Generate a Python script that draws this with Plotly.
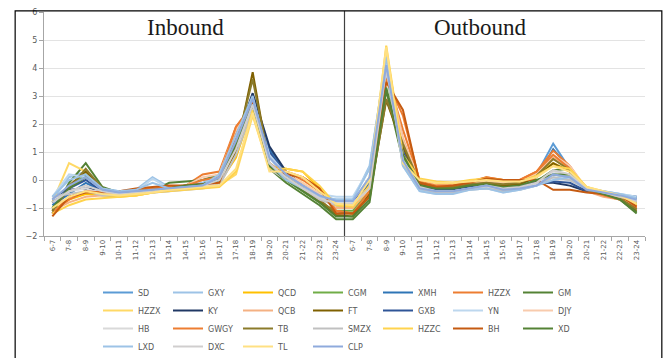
import plotly.graph_objects as go

# hourly intervals, each period listed for the inbound half then the outbound half
hours = ["6-7", "7-8", "8-9", "9-10", "10-11", "11-12", "12-13", "13-14", "14-15",
         "15-16", "16-17", "17-18", "18-19", "19-20", "20-21", "21-22", "22-23", "23-24"]
tick_labels = hours + hours

names = ["SD", "GXY", "QCD", "CGM", "XMH", "HZZX", "GM",
         "HZZX", "KY", "QCB", "FT", "GXB", "YN", "DJY",
         "HB", "GWGY", "TB", "SMZX", "HZZC", "BH", "XD",
         "LXD", "DXC", "TL", "CLP"]

colors = ["#5B9BD5", "#9DC3E6", "#FFC000", "#70AD47", "#2E75B6", "#ED7D31", "#548235",
          "#FFD966", "#203864", "#F4B183", "#7F6000", "#2F5597", "#BDD7EE", "#F8CBAD",
          "#D9D9D9", "#ED7D31", "#8B7B2A", "#C0C0C0", "#FFD34D", "#C55A11", "#548235",
          "#9DC3E6", "#D0CECE", "#FFE083", "#8FAADC"]

inbound = [
    [-0.8, -0.3, 0.2, -0.35, -0.45, -0.4, -0.35, -0.3, -0.25, -0.2, 0.1, 1.4, 2.9, 0.9, 0.2, -0.2, -0.6, -0.9],
    [-0.7, 0.1, 0.3, -0.3, -0.4, -0.35, 0.1, -0.25, -0.2, -0.1, 0.2, 1.6, 3.0, 0.8, 0.1, -0.3, -0.6, -0.7],
    [-1.1, -0.7, -0.5, -0.55, -0.6, -0.55, -0.45, -0.35, -0.3, -0.25, -0.1, 0.8, 2.6, 0.5, 0.4, 0.3, -0.3, -0.9],
    [-1.0, -0.3, 0.2, -0.35, -0.45, -0.45, -0.4, -0.35, -0.3, -0.15, 0.0, 1.2, 2.7, 0.5, 0.0, -0.4, -0.8, -1.1],
    [-0.9, -0.5, -0.1, -0.4, -0.45, -0.45, -0.4, -0.35, -0.3, -0.2, 0.0, 1.3, 3.0, 1.1, 0.2, -0.2, -0.6, -0.9],
    [-1.2, -0.7, -0.4, -0.5, -0.5, -0.45, -0.4, -0.3, -0.2, 0.2, 0.3, 1.9, 2.6, 0.4, 0.3, 0.0, -0.4, -1.1],
    [-1.2, -0.1, 0.6, -0.25, -0.45, -0.45, -0.4, -0.1, -0.05, 0.0, 0.2, 1.5, 2.7, 0.4, -0.1, -0.5, -0.9, -1.4],
    [-0.8, 0.6, 0.3, -0.4, -0.55, -0.55, -0.45, -0.35, -0.3, -0.25, -0.2, 0.2, 2.3, 0.4, 0.2, -0.1, -0.5, -0.8],
    [-0.7, -0.35, -0.3, -0.35, -0.45, -0.4, -0.35, -0.3, -0.25, -0.2, 0.05, 1.4, 3.1, 1.2, 0.3, -0.2, -0.5, -0.75],
    [-1.1, -0.8, -0.6, -0.55, -0.5, -0.45, -0.4, -0.35, -0.3, -0.2, 0.1, 1.7, 2.8, 0.6, 0.2, -0.2, -0.6, -1.0],
    [-1.1, -0.2, 0.3, -0.3, -0.45, -0.45, -0.4, -0.3, -0.25, -0.2, -0.1, 1.0, 3.85, 0.5, 0.1, -0.3, -0.75, -1.25],
    [-0.8, -0.3, 0.0, -0.4, -0.45, -0.4, -0.35, -0.3, -0.2, -0.15, 0.0, 1.3, 2.9, 1.0, 0.2, -0.2, -0.55, -0.85],
    [-0.6, 0.2, 0.1, -0.35, -0.45, -0.4, 0.05, -0.3, -0.25, -0.2, 0.1, 1.5, 2.9, 0.9, 0.2, -0.2, -0.5, -0.6],
    [-1.0, -0.6, -0.4, -0.45, -0.5, -0.45, -0.4, -0.3, -0.2, 0.1, 0.2, 1.8, 2.6, 0.5, 0.2, -0.1, -0.5, -0.9],
    [-0.7, -0.4, -0.3, -0.5, -0.5, -0.5, -0.45, -0.4, -0.3, -0.25, -0.1, 1.2, 2.6, 0.5, 0.1, -0.25, -0.6, -0.8],
    [-1.2, -0.6, -0.4, -0.45, -0.45, -0.35, -0.3, -0.25, -0.2, 0.0, 0.1, 1.9, 2.7, 0.5, 0.3, 0.1, -0.3, -1.1],
    [-1.1, -0.3, 0.4, -0.3, -0.45, -0.4, -0.35, -0.3, -0.2, -0.15, 0.0, 1.2, 3.6, 0.6, 0.1, -0.3, -0.7, -1.2],
    [-0.6, -0.5, -0.4, -0.55, -0.55, -0.5, -0.45, -0.4, -0.35, -0.3, -0.2, 0.9, 2.5, 0.4, 0.0, -0.3, -0.7, -0.9],
    [-1.2, -0.9, -0.7, -0.65, -0.6, -0.55, -0.45, -0.4, -0.35, -0.3, -0.25, 0.3, 2.5, 0.4, 0.4, 0.3, -0.2, -0.9],
    [-1.3, -0.6, -0.45, -0.45, -0.4, -0.3, -0.25, -0.2, -0.2, -0.15, -0.1, 1.6, 2.8, 0.5, 0.2, 0.1, -0.3, -1.2],
    [-1.0, -0.3, 0.1, -0.3, -0.45, -0.45, -0.4, -0.3, -0.2, -0.15, 0.0, 1.3, 2.7, 0.5, 0.0, -0.4, -0.8, -1.3],
    [-0.6, 0.0, 0.2, -0.3, -0.4, -0.35, -0.1, -0.3, -0.25, -0.2, 0.2, 1.6, 3.0, 0.6, 0.0, -0.3, -0.6, -0.7],
    [-0.8, -0.4, -0.2, -0.4, -0.5, -0.45, -0.4, -0.35, -0.3, -0.2, 0.0, 1.1, 2.7, 0.6, 0.1, -0.3, -0.65, -0.85],
    [-1.0, -0.6, -0.4, -0.5, -0.55, -0.5, -0.45, -0.35, -0.3, -0.25, -0.2, 0.4, 2.4, 0.3, 0.3, 0.1, -0.4, -0.85],
    [-0.7, -0.2, 0.1, -0.35, -0.45, -0.4, -0.35, -0.3, -0.25, -0.2, 0.1, 1.4, 2.9, 0.8, 0.2, -0.2, -0.55, -0.75],
]

outbound = [
    [-0.9, 0.0, 4.1, 1.1, -0.2, -0.4, -0.35, -0.25, -0.15, -0.3, -0.2, 0.2, 1.3, 0.4, -0.35, -0.45, -0.55, -0.7],
    [-0.7, 0.5, 4.3, 0.6, -0.35, -0.45, -0.45, -0.3, -0.25, -0.4, -0.3, -0.2, 0.1, 0.0, -0.3, -0.4, -0.5, -0.6],
    [-1.0, -0.3, 4.6, 1.0, 0.0, -0.1, -0.1, -0.05, 0.0, -0.05, -0.05, 0.2, 0.6, 0.3, -0.3, -0.5, -0.65, -0.9],
    [-1.1, -0.4, 3.8, 0.8, -0.2, -0.35, -0.3, -0.25, -0.2, -0.3, -0.25, -0.1, 0.2, 0.1, -0.35, -0.45, -0.55, -0.85],
    [-0.9, -0.1, 4.0, 1.2, -0.15, -0.3, -0.3, -0.2, -0.1, -0.2, -0.15, 0.1, 1.1, 0.4, -0.3, -0.45, -0.6, -0.8],
    [-1.2, -0.5, 3.8, 1.8, 0.0, -0.2, -0.2, -0.1, 0.1, 0.0, 0.0, 0.3, 1.05, 0.5, -0.35, -0.55, -0.7, -1.0],
    [-1.4, -0.8, 3.2, 0.7, -0.25, -0.35, -0.35, -0.25, -0.2, -0.3, -0.25, -0.05, 0.35, 0.4, -0.35, -0.55, -0.7, -1.2],
    [-0.8, 0.1, 4.5, 0.5, -0.1, -0.2, -0.2, -0.1, 0.0, -0.1, -0.1, 0.1, 0.6, 0.3, -0.25, -0.45, -0.6, -0.8],
    [-0.75, -0.2, 3.9, 1.3, -0.1, -0.3, -0.3, -0.2, -0.15, -0.25, -0.2, -0.1, -0.1, -0.2, -0.4, -0.5, -0.6, -0.65],
    [-1.0, -0.3, 4.2, 1.5, -0.1, -0.25, -0.25, -0.15, -0.1, -0.15, -0.1, 0.2, 0.8, 0.4, -0.4, -0.6, -0.7, -0.95],
    [-1.3, -0.5, 2.85, 1.2, -0.15, -0.3, -0.3, -0.2, -0.15, -0.2, -0.15, 0.1, 0.6, 0.3, -0.35, -0.5, -0.65, -1.1],
    [-0.85, -0.2, 3.9, 1.0, -0.2, -0.35, -0.35, -0.25, -0.2, -0.3, -0.25, -0.15, -0.05, -0.1, -0.4, -0.5, -0.55, -0.6],
    [-0.6, 0.4, 4.3, 0.5, -0.4, -0.5, -0.45, -0.35, -0.3, -0.45, -0.35, -0.2, 0.2, 0.1, -0.3, -0.4, -0.5, -0.6],
    [-0.9, -0.3, 4.1, 1.4, 0.0, -0.2, -0.2, -0.1, 0.0, -0.1, -0.05, 0.2, 0.9, 0.5, -0.3, -0.5, -0.7, -0.9],
    [-0.8, -0.3, 3.9, 0.7, -0.3, -0.4, -0.4, -0.3, -0.25, -0.35, -0.3, -0.15, 0.3, 0.2, -0.3, -0.45, -0.55, -0.7],
    [-1.2, -0.4, 3.6, 2.3, -0.05, -0.2, -0.2, -0.05, 0.1, 0.0, 0.0, 0.3, 0.9, 0.4, -0.35, -0.55, -0.7, -1.0],
    [-1.2, -0.6, 2.9, 1.3, -0.1, -0.25, -0.25, -0.15, -0.1, -0.15, -0.1, 0.15, 0.75, 0.35, -0.35, -0.5, -0.65, -1.05],
    [-0.9, -0.2, 4.0, 0.6, -0.3, -0.45, -0.45, -0.35, -0.3, -0.4, -0.35, -0.2, 0.1, 0.0, -0.3, -0.45, -0.6, -0.75],
    [-0.95, -0.2, 4.8, 0.9, 0.05, -0.05, -0.1, 0.0, 0.05, 0.0, -0.05, 0.15, 0.5, 0.4, -0.25, -0.4, -0.55, -0.9],
    [-1.2, -0.6, 3.5, 2.5, -0.1, -0.25, -0.2, -0.1, 0.05, 0.0, 0.0, 0.0, -0.35, -0.35, -0.45, -0.5, -0.55, -0.95],
    [-1.3, -0.7, 3.3, 0.9, -0.2, -0.3, -0.3, -0.2, -0.15, -0.25, -0.2, 0.0, 0.2, 0.2, -0.3, -0.5, -0.7, -1.15],
    [-0.7, 0.4, 4.4, 0.5, -0.4, -0.5, -0.5, -0.35, -0.3, -0.45, -0.35, -0.2, 0.0, 0.1, -0.3, -0.4, -0.5, -0.65],
    [-0.85, -0.3, 4.0, 0.7, -0.25, -0.4, -0.4, -0.3, -0.2, -0.3, -0.25, -0.1, 0.35, 0.2, -0.3, -0.45, -0.6, -0.75],
    [-0.9, 0.0, 4.75, 0.6, 0.0, -0.1, -0.1, -0.05, 0.0, -0.05, -0.05, 0.1, 0.5, 0.3, -0.25, -0.4, -0.55, -0.85],
    [-0.75, 0.1, 4.1, 0.7, -0.3, -0.4, -0.4, -0.3, -0.2, -0.35, -0.3, -0.2, 0.2, 0.1, -0.35, -0.45, -0.55, -0.7],
]

y_ticks = [-2, -1, 0, 1, 2, 3, 4, 5, 6]

x_pos = list(range(len(tick_labels)))
legend_rows = ["legend", "legend2", "legend3", "legend4"]

W, H = 664, 358
TOP, BOTTOM = 8, 122

fig = go.Figure()
for i, name in enumerate(names):
    fig.add_trace(go.Scatter(
        x=x_pos,
        y=inbound[i] + outbound[i],
        mode="lines",
        name=name,
        line=dict(color=colors[i], width=2),
        legend=legend_rows[i // 7],
    ))

legend_common = dict(
    orientation="h",
    xref="container",
    yref="container",
    xanchor="left",
    yanchor="top",
    x=98 / W,
    entrywidth=25,
    font=dict(family="DejaVu Sans", size=8, color="#595959"),
    bgcolor="rgba(0,0,0,0)",
    tracegroupgap=0,
)
# top edge (px from the top of the page) of each legend row
row_tops_px = [278, 296, 314, 332]

plot_h = H - TOP - BOTTOM
title_y = 1 - (24 - TOP) / plot_h

fig.update_layout(
    width=W,
    height=H,
    margin=dict(l=44, r=19, t=TOP, b=BOTTOM),
    paper_bgcolor="white",
    plot_bgcolor="white",
    font=dict(family="DejaVu Sans", size=8, color="#595959"),
    legend=dict(legend_common, y=1 - row_tops_px[0] / H),
    legend2=dict(legend_common, y=1 - row_tops_px[1] / H),
    legend3=dict(legend_common, y=1 - row_tops_px[2] / H),
    legend4=dict(legend_common, y=1 - row_tops_px[3] / H),
    xaxis=dict(
        range=[-0.5, len(tick_labels) - 0.5],
        tickmode="array",
        tickvals=x_pos,
        ticktext=tick_labels,
        tickangle=-90,
        ticks="",
        showgrid=False,
        zeroline=False,
        showline=True,
        linecolor="#A6A6A6",
        linewidth=1,
        tickfont=dict(size=7, color="#595959"),
        minor=dict(ticks="outside", tick0=-0.5, dtick=1, ticklen=4,
                   tickcolor="#A6A6A6", showgrid=False),
    ),
    yaxis=dict(
        range=[-2, 6],
        tickmode="array",
        tickvals=y_ticks,
        showgrid=True,
        gridcolor="#E3E3E3",
        gridwidth=1,
        zeroline=False,
        showline=True,
        linecolor="#A6A6A6",
        ticks="outside",
        ticklen=4,
        tickcolor="#A6A6A6",
        tickfont=dict(size=8, color="#595959"),
    ),
    annotations=[
        dict(text="Inbound", x=0.235, y=title_y, xref="paper", yref="paper",
             xanchor="center", yanchor="middle", showarrow=False,
             font=dict(family="Liberation Serif", size=23, color="#1a1a1a")),
        dict(text="Outbound", x=0.727, y=title_y, xref="paper", yref="paper",
             xanchor="center", yanchor="middle", showarrow=False,
             font=dict(family="Liberation Serif", size=23, color="#1a1a1a")),
    ],
    shapes=[
        # divider between the inbound and outbound halves
        dict(type="line", xref="x", yref="paper", x0=17.5, x1=17.5, y0=0, y1=1.005,
             line=dict(color="#404040", width=1.2)),
        # frame around the whole chart
        dict(type="rect", xref="paper", yref="paper", x0=-0.048, x1=1.028, y0=-0.7, y1=1.005,
             line=dict(color="#000000", width=1.2), layer="above"),
    ],
)

fig.write_html("out.html")
